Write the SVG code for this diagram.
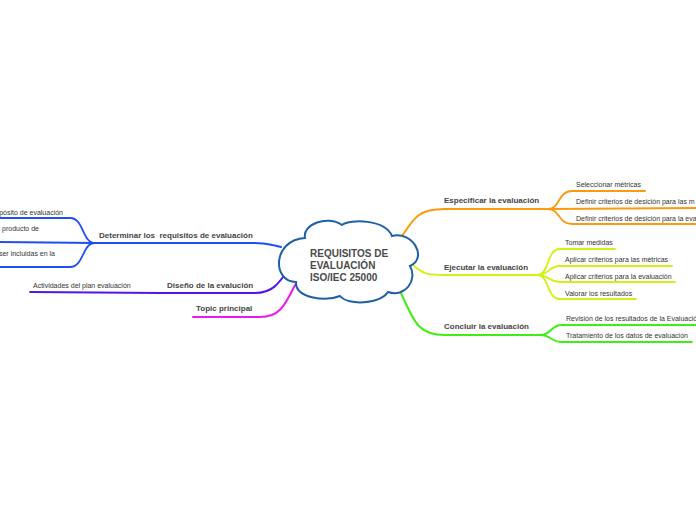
<svg xmlns="http://www.w3.org/2000/svg" width="696" height="520" viewBox="0 0 696 520">
<style>
.c{fill:none;stroke-width:2;stroke-linecap:round}
.s{fill:none;stroke-width:1.8;stroke-linecap:round}
.t{font-family:"Liberation Sans",Arial,sans-serif;font-weight:bold;font-size:8px;fill:#454545;white-space:pre}
.st{font-family:"Liberation Sans",Arial,sans-serif;font-size:7px;fill:#333}
.ct{font-family:"Liberation Sans",Arial,sans-serif;font-weight:bold;font-size:10px;fill:#4a4a4a}
.blue{stroke:#1f4ff2}.or{stroke:#fb9a0e}.yg{stroke:#d2f012}.gr{stroke:#40ee14}.pu{stroke:#5216e6}.mg{stroke:#ea1ceb}
</style>
<rect width="696" height="520" fill="#fff"/>
<g id="connectors">
<path class="c blue" d="M281,247 C265,243 260,243 250,243 L95,243"/>
<path class="s blue" d="M95,243 C82,243 84,218 70,218 L0,218"/>
<path class="s blue" d="M95,243 L0,242"/>
<path class="s blue" d="M95,243 C82,243 84,267 70,267 L0,267"/>
<path class="c pu" d="M291,266 C278,285 272,293 255,293 L160,293"/>
<path class="s pu" d="M160,293 L30,292"/>
<path class="c mg" d="M295,285 C285,305 280,317 260,317 L193,317"/>
<path class="c or" d="M399,241 C415,215 420,209 445,209 L548,209"/>
<path class="s or" d="M548,209 C560,209 558,191 572,191 L645,191"/>
<path class="s or" d="M548,209 L696,208"/>
<path class="s or" d="M548,209 C560,209 558,224 572,224 L696,224"/>
<path class="c yg" d="M414,266 C425,275 430,275 445,275 L537,275"/>
<path class="s yg" d="M537,275 C550,275 546,249 560,249 L615,249"/>
<path class="s yg" d="M537,275 C550,275 548,266 560,266 L672,266"/>
<path class="s yg" d="M537,275 C550,275 548,282 560,282 L675,282"/>
<path class="s yg" d="M537,275 C550,275 546,299 560,299 L636,299"/>
<path class="c gr" d="M401,293 C415,325 420,335 445,335 L540,335"/>
<path class="s gr" d="M540,335 C552,335 550,325 562,325 L696,325"/>
<path class="s gr" d="M540,335 C552,335 550,342 562,342 L692,342"/>
</g>
<g id="central">
<path d="M305,238 C302,224 328,215 342,225 C350,219 385,219 392,236 C413,231 428,258 410,266 C418,280 405,298 388,292 C380,304 348,306 340,296 C325,302 295,298 296,282 C272,282 272,240 305,238 Z" fill="#fff" stroke="#1f5fa6" stroke-width="2"/>
<text class="ct" x="310" y="257">REQUISITOS DE</text>
<text class="ct" x="310" y="269">EVALUACIÓN</text>
<text class="ct" x="310" y="281">ISO/IEC 25000</text>
</g>
<g id="determinar"><text class="t" x="99" y="238">Determinar los  requisitos de evaluación</text></g>
<g id="det-1"><text class="st" x="63" y="214.5" text-anchor="end">pósito de evaluación</text></g>
<g id="det-2"><text class="st" x="39" y="230.5" text-anchor="end">l producto de</text></g>
<g id="det-3"><text class="st" x="55" y="255.5" text-anchor="end">ser incluidas en la</text></g>
<g id="diseno"><text class="t" x="167" y="288">Diseño de la evalución</text></g>
<g id="dis-1"><text class="st" x="33" y="287.5">Actividades del plan evaluación</text></g>
<g id="topic"><text class="t" x="196" y="311">Topic principal</text></g>
<g id="especificar"><text class="t" x="444" y="203">Especificar la evaluación</text></g>
<g id="esp-1"><text class="st" x="576" y="186.5">Seleccionar métricas</text></g>
<g id="esp-2"><text class="st" x="576" y="203.5">Definir criterios de desición para las m</text></g>
<g id="esp-3"><text class="st" x="576" y="220.5">Definir criterios de desición para la eva</text></g>
<g id="ejecutar"><text class="t" x="444" y="270">Ejecutar la evaluación</text></g>
<g id="eje-1"><text class="st" x="565" y="244.5">Tomar medidas</text></g>
<g id="eje-2"><text class="st" x="565" y="261.5">Aplicar criterios para las métricas</text></g>
<g id="eje-3"><text class="st" x="565" y="278.5">Aplicar criterios para la evaluación</text></g>
<g id="eje-4"><text class="st" x="565" y="295.5">Valorar los resultados</text></g>
<g id="concluir"><text class="t" x="444" y="329">Concluir la evaluación</text></g>
<g id="con-1"><text class="st" x="566" y="320.5">Revisión de los resultados de la Evaluació</text></g>
<g id="con-2"><text class="st" x="566" y="337.5">Tratamiento de los datos de evaluación</text></g>
</svg>
